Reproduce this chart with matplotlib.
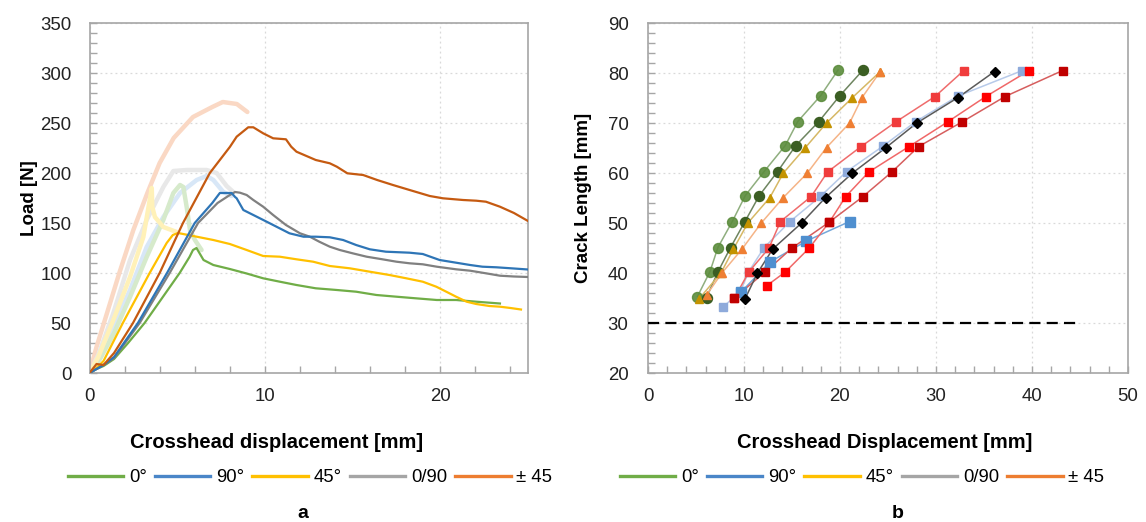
import matplotlib
matplotlib.use("Agg")
import matplotlib.pyplot as plt
from matplotlib import font_manager
from matplotlib.lines import Line2D
from matplotlib.ticker import MultipleLocator

names = {f.name for f in font_manager.fontManager.ttflist}
NARROW = "Liberation Sans Narrow" if "Liberation Sans Narrow" in names else "Liberation Sans"
REG = "Liberation Sans"

# ---------------- Panel a data : Load vs crosshead displacement ----------------
# main curves
g0_x = [0, 0.4, 0.8, 1.4, 2.2, 3.14, 4.1, 5.14, 5.7, 5.9, 6.1, 6.3, 6.5, 7.06, 8.0, 8.96, 9.9, 10.85,
        11.8, 12.9, 14.1, 15.2, 16.36, 17.5, 18.6, 19.8, 20.9, 22.05, 23.4]
g0_y = [0, 4, 7, 14, 30, 50, 74, 100, 116, 123, 125, 119, 113, 108, 104, 99.5, 94.7, 91.3,
        88, 84.7, 83, 81.3, 78, 76.3, 74.7, 73, 73, 71.3, 69.5]

b90_x = [0, 0.4, 0.8, 1.4, 2.76, 4.42, 6.0, 7.0, 7.43, 8.1, 8.3, 8.39, 8.77, 9.34, 10.1, 10.66, 11.4,
         12.2, 12.9, 13.7, 14.46, 15.2, 15.98, 16.9, 18.25, 19.0, 19.96, 20.9, 21.7, 22.4, 23.2, 24.2, 25.0]
b90_y = [0, 4, 8, 16, 50, 100, 150, 170, 180, 180, 176, 174.7, 163, 158, 151.3, 146.3, 139.7,
         136.3, 136.3, 135.7, 133, 128, 123.7, 121.3, 120.3, 119, 113, 110.3, 108, 106.3, 105.7, 104.5, 103.5]

y45_x = [0, 0.4, 0.8, 1.9, 3.43, 4.4, 4.75, 5.05, 6.11, 7.06, 8.0, 8.96, 9.9, 10.85, 11.8, 12.75, 13.7,
         14.84, 15.98, 17.1, 18.06, 19.0, 19.77, 20.34, 20.9, 21.5, 22.05, 22.8, 23.4, 24.0, 24.6]
y45_y = [0, 5, 12, 50, 100, 130, 138, 140, 136.3, 133, 129, 123, 117, 116.3, 113.7, 111.3, 107,
         104.7, 101.3, 98, 94.7, 91.3, 86.3, 81.3, 76.3, 71.3, 69, 67, 66.3, 65, 63.5]

gr_x = [0, 0.4, 0.8, 1.4, 2.86, 4.57, 6.19, 7.3, 8.0, 8.3, 8.58, 8.96, 9.34, 9.9, 10.47, 11.2, 12.0,
        12.56, 13.1, 13.7, 14.27, 15.0, 15.8, 16.7, 17.5, 18.25, 19.0, 19.8, 20.9, 21.7, 22.6, 23.4, 24.2, 25.0]
gr_y = [0, 4, 8, 15, 50, 100, 150, 170, 178, 181, 180.3, 178, 173, 166.3, 158, 148, 139.7,
        136.3, 131.3, 126.3, 123, 119.7, 116.3, 113.7, 111.3, 109.7, 108.7, 106.3, 103.7, 102.3, 99.7, 97.3, 96.5, 96]

pm_x = [0, 0.4, 0.8, 1.4, 2.48, 4.0, 5.33, 6.86, 8.0, 8.39, 9.05, 9.34, 9.9, 10.47, 11.2, 11.5, 11.8,
        12.9, 13.7, 14.1, 14.7, 15.6, 16.4, 17.3, 18.25, 19.4, 20.15, 21.3, 22.05, 22.6, 23.4, 24.2, 25.0]
pm_y = [0, 9, 8, 20, 50, 100, 150, 200, 226, 236.3, 245.7, 245.7, 239.7, 234.7, 233.7, 226.3, 221.3,
        213, 209.7, 206.3, 199.7, 198, 193, 188, 183, 177, 174.7, 173, 172.3, 171.3, 166.3, 160, 152]

# faint (other specimens)
fpm_x = [0, 0.4, 1.0, 1.7, 2.5, 3.3, 4.0, 4.8, 5.9, 7.0, 7.6, 8.4, 9.0]
fpm_y = [0, 26, 60, 100, 143, 180, 210, 235, 256, 266, 271, 269, 261]
fgr_x = [0, 0.5, 1.36, 2.31, 3.26, 4.21, 4.78, 5.54, 6.68, 7.25, 7.82, 8.2]
fgr_y = [0, 18, 60, 113, 153, 186, 202, 203, 203, 200, 187, 181]
fb_x = [0, 0.5, 1.36, 2.31, 3.26, 4.21, 5.16, 6.11, 6.68, 7.06, 7.63, 8.1]
fb_y = [0, 14, 46, 83, 126, 156, 180, 193, 197, 193, 181, 177]
fg_x = [0, 0.6, 1.4, 2.31, 3.26, 4.21, 4.78, 5.16, 5.35, 5.54, 5.73, 6.01, 6.39]
fg_y = [0, 14, 40, 76, 116, 153, 180, 188, 186, 166, 143, 133, 123]
fy_x = [0, 0.5, 1.36, 2.31, 3.07, 3.55, 3.58, 3.73, 4.21, 4.97]
fy_y = [0, 16, 53, 96, 136, 185, 166, 156, 146, 141]

# ---------------- Panel b data : Crack length vs crosshead displacement ----------------
lg_x = [5.15, 6.46, 7.28, 8.78, 10.14, 12.1, 14.3, 15.6, 18.0, 19.8]
lg_y = [35.3, 40.3, 45.1, 50.3, 55.5, 60.3, 65.5, 70.3, 75.5, 80.6]
dg_x = [6.1, 7.3, 8.6, 10.1, 11.6, 13.5, 15.4, 17.8, 20.0, 22.4]
dg_y = [35.1, 40.3, 45.1, 50.3, 55.5, 60.3, 65.5, 70.3, 75.5, 80.6]
oc_x = [5.3, 7.6, 8.9, 10.4, 12.7, 14.1, 16.4, 18.6, 21.3, 24.2]
oc_y = [34.8, 40.0, 44.8, 50.0, 55.1, 60.0, 65.1, 70.0, 75.1, 80.3]
or_x = [6.1, 7.7, 9.8, 11.8, 14.1, 16.6, 18.6, 21.0, 22.3, 24.2]
or_y = [35.6, 40.0, 44.8, 50.0, 55.1, 60.0, 65.1, 70.0, 75.1, 80.3]
lb_x = [7.8, 9.6, 10.5, 12.1, 14.8, 18.0, 20.7, 24.5, 27.9, 32.3, 39.0]
lb_y = [33.2, 36.2, 40.3, 45.1, 50.3, 55.4, 60.3, 65.4, 70.3, 75.4, 80.5]
mb_x = [9.7, 12.7, 16.5, 21.0]
mb_y = [36.2, 42.2, 46.4, 50.3]
bk_x = [10.1, 11.4, 13.0, 16.0, 18.5, 21.3, 24.8, 28.0, 32.3, 36.1]
bk_y = [34.8, 40.0, 44.8, 50.0, 55.1, 60.0, 65.1, 70.0, 75.1, 80.3]
ra_x = [9.0, 10.5, 12.6, 13.8, 17.0, 18.7, 22.2, 25.8, 29.9, 32.9]
ra_y = [35.0, 40.2, 45.0, 50.3, 55.3, 60.2, 65.3, 70.2, 75.3, 80.5]
rb_x = [12.4, 14.3, 16.8, 18.9, 20.6, 23.0, 27.2, 31.2, 35.2, 39.7]
rb_y = [37.5, 40.2, 45.0, 50.2, 55.3, 60.2, 65.3, 70.2, 75.3, 80.5]
rc_x = [9.0, 12.2, 15.0, 18.9, 22.4, 25.4, 28.2, 32.7, 37.2, 43.2]
rc_y = [35.0, 40.2, 45.0, 50.2, 55.3, 60.2, 65.3, 70.2, 75.3, 80.5]

notch_x = [0, 45]
notch_y = [30, 30]

legend_labels = ["0°", "90°", "45°", "0/90", "± 45"]
legend_colors = ["#70ad47", "#4a86c8", "#ffc000", "#a5a5a5", "#ed7d31"]

# ---------------- figure ----------------
W, H = 1146, 522
fig = plt.figure(figsize=(W / 100, H / 100), dpi=100)

def px_ax(l, r, t, b):
    return [l / W, 1 - b / H, (r - l) / W, (b - t) / H]

axa = fig.add_axes(px_ax(89.5, 528, 23, 373))
axb = fig.add_axes(px_ax(648, 1128, 23, 373))

spine_c = "#a6a6a6"
for ax in (axa, axb):
    for s in ax.spines.values():
        s.set_color(spine_c)
        s.set_linewidth(1.2)
    ax.tick_params(which="both", direction="in", color=spine_c, length=5, width=1,
                   labelsize=13.4, labelcolor="#222222")
    ax.tick_params(axis="y", pad=13)
    ax.tick_params(axis="x", pad=11)
    ax.grid(True, which="major", color="#d9d9d9", linestyle=(0, (1.5, 2.5)), linewidth=0.9)
    ax.set_axisbelow(True)
    for lab in ax.get_xticklabels() + ax.get_yticklabels():
        lab.set_fontfamily(REG)

# ---- panel a ----
faint = [(fpm_x, fpm_y, "#fad8c4"), (fgr_x, fgr_y, "#e8e8e8"), (fb_x, fb_y, "#d8e7f7"),
         (fg_x, fg_y, "#d6eacb"), (fy_x, fy_y, "#fff1b8")]
for x, y, c in faint:
    axa.plot(x, y, color=c, lw=3.2, solid_capstyle="round", solid_joinstyle="round", zorder=2)

mains = [(g0_x, g0_y, "#70ad47"), (y45_x, y45_y, "#ffc000"), (gr_x, gr_y, "#808080"),
         (b90_x, b90_y, "#2e75b6"), (pm_x, pm_y, "#c55a11")]
for x, y, c in mains:
    axa.plot(x, y, color=c, lw=1.6, zorder=3)

axa.set_xlim(0, 25)
axa.set_ylim(0, 350)
axa.xaxis.set_major_locator(MultipleLocator(10))
axa.xaxis.set_minor_locator(MultipleLocator(2))
axa.yaxis.set_major_locator(MultipleLocator(50))
axa.yaxis.set_minor_locator(MultipleLocator(10))

# ---- panel b ----
series_b = [
    (lg_x, lg_y, "o", "#5b8c3c", "#8fae7e", 7.2, 0.9),
    (dg_x, dg_y, "o", "#3b5e23", "#6e8560", 7.2, 1.0),
    (oc_x, oc_y, "^", "#c49300", "#d6b865", 6.0, 1.0),
    (or_x, or_y, "^", "#ef7f33", "#f5b487", 6.0, 1.0),
    (lb_x, lb_y, "s", "#8eaadb", "#b7cae9", 6.0, 1.0),
    (mb_x, mb_y, "s", "#4f8fcf", "#74a7da", 7.5, 1.0),
    (ra_x, ra_y, "s", "#f03c3c", "#ef6c6c", 6.0, 1.0),
    (rb_x, rb_y, "s", "#ff0000", "#f06868", 6.0, 1.0),
    (rc_x, rc_y, "s", "#c00000", "#d65e5e", 6.0, 1.0),
    (bk_x, bk_y, "D", "#000000", "#5a5a5a", 5.2, 1.0),
]
for x, y, m, mc, lc, ms, a in series_b:
    axb.plot(x, y, color=lc, lw=1.1, zorder=3)
    axb.plot(x, y, linestyle="none", marker=m, markersize=ms, markerfacecolor=mc,
             markeredgecolor=mc, alpha=a, zorder=4)

axb.plot(notch_x, notch_y, color="black", lw=1.6, linestyle=(0, (5, 2.8)), zorder=3)

axb.set_xlim(0, 50)
axb.set_ylim(20, 90)
axb.xaxis.set_major_locator(MultipleLocator(10))
axb.xaxis.set_minor_locator(MultipleLocator(2))
axb.yaxis.set_major_locator(MultipleLocator(10))
axb.yaxis.set_minor_locator(MultipleLocator(2))
axb.tick_params(axis="y", pad=14)

# ---- labels ----
def ftxt(x, y, s, **kw):
    fig.text(x / W, 1 - y / H, s, ha="center", va="center", **kw)

ftxt(30, 198, "Load [N]", rotation=90, fontsize=13.5, fontweight="bold", family=REG)
ftxt(583, 198, "Crack Length [mm]", rotation=90, fontsize=13.5, fontweight="bold", family=REG)
ftxt(277, 442, "Crosshead displacement [mm]", fontsize=14.5, fontweight="bold", family=NARROW)
ftxt(885, 442, "Crosshead Displacement [mm]", fontsize=14.5, fontweight="bold", family=NARROW)
ftxt(303, 513, "a", fontsize=14, fontweight="bold", family=NARROW)
ftxt(898, 513, "b", fontsize=14, fontweight="bold", family=NARROW)

handles = [Line2D([], [], color=c, lw=2.4) for c in legend_colors]
for cx in (310, 862):
    leg = fig.legend(handles, legend_labels, loc="center", bbox_to_anchor=(cx / W, 1 - 478 / H),
                     ncol=5, frameon=False, handlelength=3.0, handletextpad=0.3,
                     columnspacing=0.45, prop={"family": NARROW, "size": 13.3})

fig.savefig("out.png", dpi=100)
